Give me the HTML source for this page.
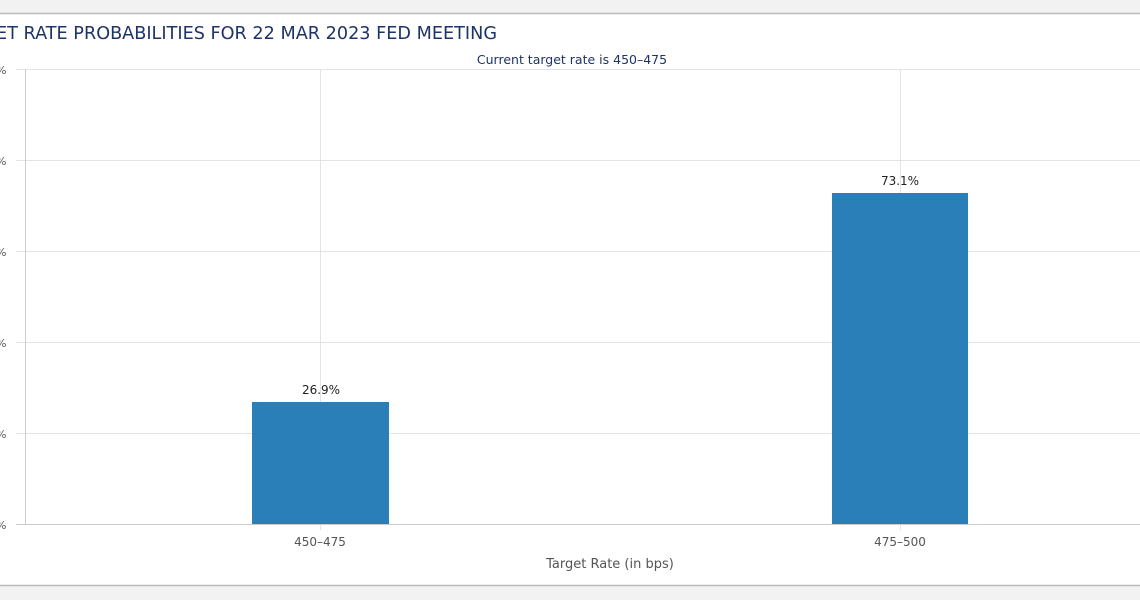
<!DOCTYPE html>
<html><head><style>
body{margin:0;width:1140px;height:600px;overflow:hidden;background:#f2f2f2;font-family:"DejaVu Sans","Liberation Sans",sans-serif;}
</style></head><body>
<svg width="1140" height="600" xmlns="http://www.w3.org/2000/svg" style="position:absolute;left:0;top:0">
<rect x="0" y="0" width="1140" height="600" fill="#f2f2f2"/>
<rect x="0" y="14" width="1140" height="571" fill="#fff"/>
<line x1="0" y1="13.5" x2="1140" y2="13.5" stroke="#bbb" stroke-width="1.5"/>
<line x1="0" y1="585.5" x2="1140" y2="585.5" stroke="#bbb" stroke-width="1.5"/>
<text x="-4" y="39" font-size="17.6" fill="#1e3366" textLength="501" lengthAdjust="spacingAndGlyphs">ET RATE PROBABILITIES FOR 22 MAR 2023 FED MEETING</text>
<text x="572" y="64" font-size="12.5" fill="#1e3366" text-anchor="middle">Current target rate is 450–475</text>
<g stroke="#e3e3e3" stroke-width="1">
<line x1="16" y1="69.5" x2="1140" y2="69.5"/>
<line x1="16" y1="160.5" x2="1140" y2="160.5"/>
<line x1="16" y1="251.5" x2="1140" y2="251.5"/>
<line x1="16" y1="342.5" x2="1140" y2="342.5"/>
<line x1="16" y1="433.5" x2="1140" y2="433.5"/>
<line x1="320.5" y1="69" x2="320.5" y2="530"/>
<line x1="900.5" y1="69" x2="900.5" y2="530"/>
</g>
<line x1="25.5" y1="69" x2="25.5" y2="525" stroke="#ccc"/>
<line x1="16" y1="524.5" x2="1140" y2="524.5" stroke="#ccc"/>
<g font-size="11" fill="#555">
<text x="-4" y="74">%</text><text x="-4" y="165">%</text><text x="-4" y="256">%</text>
<text x="-4" y="347">%</text><text x="-4" y="438">%</text><text x="-4" y="529">%</text>
</g>
<rect x="252" y="402" width="137" height="122" fill="#2a7fb9"/>
<rect x="832" y="193" width="136" height="331" fill="#2a7fb9"/>
<text x="321" y="394" font-size="12" fill="#222" text-anchor="middle">26.9%</text>
<text x="900" y="185" font-size="12" fill="#222" text-anchor="middle">73.1%</text>
<text x="320" y="546" font-size="12" fill="#555" text-anchor="middle">450–475</text>
<text x="900" y="546" font-size="12" fill="#555" text-anchor="middle">475–500</text>
<text x="610" y="568" font-size="13" fill="#555" text-anchor="middle">Target Rate (in bps)</text>
</svg>
</body></html>
